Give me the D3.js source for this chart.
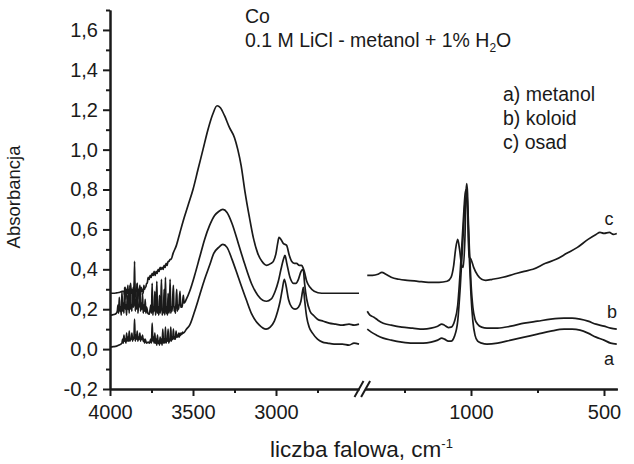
<!DOCTYPE html>
<html lang="pl">

<head>
    <title>Absorbancja</title>
    <meta charset="utf-8">
    <script src="https://d3js.org/d3.v7.min.js"></script>
    <style>
        body { margin: 0; background: #fff; }
        svg { display: block; font-family: "Liberation Sans", Arial, sans-serif; }
        .axis path, .axis line { stroke: #1a1a1a; stroke-width: 2; }
        .axis text { fill: #1a1a1a; font-size: 20px; font-family: "Liberation Sans", Arial, sans-serif; }
        .spectrum { fill: none; stroke: #1a1a1a; stroke-width: 1.7; stroke-linejoin: round; }
    </style>
</head>

<body>
    <div id="container"></div>
    <script>
        // Data: [wavenumber, absorbance]
        const aLeft = [[4000,0.01],[3980,0.012],[3960,0.015],[3945,0.02],[3935,0.025],
            [3928,0.03],[3924,0.05],[3920,0.03],[3916,0.07],[3912,0.04],[3908,0.05],[3904,0.03],[3900,0.08],
            [3896,0.04],[3892,0.06],[3888,0.04],[3884,0.09],[3880,0.04],[3876,0.05],[3872,0.05],[3868,0.08],
            [3864,0.04],[3860,0.06],[3856,0.05],[3852,0.15],[3848,0.04],[3844,0.07],[3840,0.05],[3836,0.09],
            [3832,0.04],[3828,0.06],[3824,0.05],[3820,0.08],[3816,0.04],[3812,0.06],[3808,0.05],[3804,0.07],
            [3800,0.04],[3796,0.05],[3792,0.03],[3788,0.05],[3780,0.03],[3770,0.035],[3762,0.03],
            [3758,0.04],[3754,0.05],[3750,0.03],[3746,0.13],[3742,0.04],[3738,0.06],[3734,0.03],[3730,0.08],
            [3726,0.03],[3722,0.05],[3718,0.02],[3714,0.07],[3710,0.03],[3706,0.04],[3702,0.02],[3698,0.06],
            [3694,0.03],[3690,0.05],[3686,0.02],[3682,0.10],[3678,0.03],[3674,0.05],[3670,0.03],[3666,0.11],
            [3662,0.03],[3658,0.05],[3654,0.04],[3650,0.10],[3646,0.03],[3642,0.05],[3638,0.04],[3634,0.11],
            [3630,0.04],[3626,0.06],[3622,0.05],[3618,0.10],[3614,0.05],[3610,0.06],[3606,0.05],[3602,0.09],
            [3598,0.06],[3594,0.07],[3590,0.06],[3586,0.08],[3582,0.06],[3578,0.08],[3574,0.07],[3570,0.08],
            [3566,0.075],[3562,0.085],[3558,0.08],
            [3540,0.10],[3520,0.12],[3490,0.19],[3460,0.27],[3430,0.35],[3400,0.42],[3375,0.48],[3345,0.51],
            [3320,0.525],[3295,0.51],[3265,0.45],[3227,0.36],[3180,0.25],[3146,0.175],[3100,0.12],[3060,0.10],
            [3035,0.11],[3010,0.14],[2990,0.19],[2975,0.24],[2962,0.30],[2950,0.35],[2940,0.32],[2925,0.25],
            [2905,0.21],[2885,0.20],[2865,0.21],[2850,0.24],[2840,0.29],[2835,0.31],[2828,0.25],[2815,0.16],
            [2800,0.11],[2780,0.08],[2750,0.05],[2720,0.035],[2690,0.03],[2650,0.025],[2600,0.025],
            [2560,0.02],[2530,0.03],[2500,0.025]];

        const bLeft = [[4000,0.17],[3985,0.172],[3970,0.175],[3962,0.18],
            [3956,0.19],[3952,0.22],[3948,0.18],[3944,0.26],[3940,0.19],[3936,0.21],[3932,0.17],[3928,0.29],
            [3924,0.19],[3920,0.23],[3916,0.18],[3912,0.31],[3908,0.20],[3904,0.22],[3900,0.17],[3896,0.27],
            [3892,0.20],[3888,0.24],[3884,0.18],[3880,0.32],[3876,0.20],[3872,0.22],[3868,0.19],[3864,0.30],
            [3860,0.21],[3856,0.23],[3852,0.44],[3848,0.19],[3844,0.25],[3840,0.20],[3836,0.33],[3832,0.18],
            [3828,0.22],[3824,0.21],[3820,0.31],[3816,0.19],[3812,0.23],[3808,0.20],[3804,0.28],[3800,0.18],
            [3796,0.22],[3792,0.19],[3788,0.25],[3784,0.18],[3780,0.21],[3772,0.18],[3764,0.175],
            [3758,0.20],[3754,0.22],[3750,0.18],[3746,0.33],[3742,0.17],[3738,0.21],[3734,0.19],[3730,0.29],
            [3726,0.17],[3722,0.20],[3718,0.34],[3714,0.18],[3710,0.21],[3706,0.17],[3702,0.27],[3698,0.18],
            [3694,0.22],[3690,0.35],[3686,0.17],[3682,0.20],[3678,0.18],[3674,0.30],[3670,0.17],[3666,0.36],
            [3662,0.18],[3658,0.21],[3654,0.17],[3650,0.28],[3646,0.18],[3642,0.20],[3638,0.35],[3634,0.18],
            [3630,0.21],[3626,0.19],[3622,0.26],[3618,0.32],[3614,0.19],[3610,0.21],[3606,0.18],[3602,0.24],
            [3598,0.30],[3594,0.19],[3590,0.22],[3586,0.20],[3582,0.25],[3578,0.29],[3574,0.21],[3570,0.22],
            [3566,0.21],[3562,0.24],[3558,0.27],[3554,0.23],
            [3540,0.25],[3520,0.29],[3490,0.37],[3460,0.46],[3430,0.55],[3400,0.62],[3370,0.67],[3345,0.69],
            [3320,0.70],[3295,0.685],[3265,0.63],[3227,0.53],[3190,0.43],[3146,0.325],[3110,0.27],[3080,0.245],
            [3056,0.24],[3030,0.25],[3005,0.29],[2986,0.34],[2970,0.40],[2955,0.45],[2946,0.47],[2935,0.43],
            [2916,0.36],[2895,0.33],[2880,0.33],[2865,0.35],[2849,0.39],[2836,0.40],[2828,0.33],[2815,0.25],
            [2795,0.19],[2775,0.17],[2750,0.15],[2715,0.14],[2680,0.13],[2640,0.125],[2600,0.12],[2560,0.125],
            [2530,0.12],[2500,0.125]];

        const cLeft = [[4000,0.28],[3980,0.28],[3960,0.282],[3940,0.285],[3925,0.29],
            [3916,0.29],[3912,0.27],[3908,0.31],[3904,0.25],[3900,0.30],[3896,0.28],[3892,0.32],[3888,0.23],
            [3884,0.30],[3880,0.27],[3876,0.33],[3872,0.28],[3868,0.30],[3864,0.24],[3860,0.31],[3856,0.28],
            [3852,0.34],[3848,0.26],[3844,0.30],[3840,0.29],[3836,0.33],[3832,0.25],[3828,0.30],[3824,0.28],
            [3820,0.32],[3816,0.27],[3812,0.31],[3808,0.29],[3804,0.30],[3800,0.28],[3796,0.32],[3792,0.30],
            [3788,0.31],[3784,0.31],[3780,0.33],[3776,0.33],
            [3770,0.36],[3764,0.35],[3758,0.37],[3752,0.36],[3746,0.38],[3740,0.37],[3734,0.39],[3728,0.37],
            [3722,0.39],[3716,0.38],[3710,0.40],[3704,0.39],[3698,0.41],[3692,0.40],[3686,0.41],[3680,0.40],
            [3674,0.42],[3668,0.41],[3662,0.43],[3656,0.42],[3650,0.44],[3644,0.44],[3638,0.45],[3632,0.45],
            [3620,0.48],[3600,0.52],
            [3580,0.58],[3560,0.64],[3530,0.72],[3500,0.80],[3470,0.90],[3440,1.00],[3410,1.10],[3380,1.18],
            [3355,1.22],[3335,1.21],[3310,1.17],[3280,1.11],[3250,1.06],[3230,1.00],[3210,0.92],[3187,0.79],
            [3160,0.66],[3137,0.56],[3110,0.48],[3085,0.44],[3056,0.42],[3030,0.43],[3016,0.44],[3000,0.48],
            [2990,0.53],[2982,0.56],[2970,0.55],[2956,0.53],[2936,0.52],[2920,0.47],[2906,0.44],[2890,0.43],
            [2876,0.43],[2860,0.42],[2846,0.42],[2838,0.41],[2830,0.39],[2815,0.34],[2795,0.31],[2770,0.29],
            [2725,0.28],[2680,0.28],[2620,0.28],[2560,0.28],[2500,0.28]];

        const aRight = [[1390,0.10],[1375,0.085],[1355,0.07],[1330,0.055],[1300,0.045],[1260,0.035],
            [1220,0.03],[1180,0.03],[1150,0.035],[1125,0.045],[1110,0.055],[1100,0.05],[1085,0.04],[1075,0.04],
            [1062,0.065],[1050,0.14],[1040,0.32],[1030,0.56],[1022,0.74],[1018,0.76],[1013,0.70],[1006,0.45],
            [1000,0.27],[993,0.14],[985,0.07],[975,0.04],[960,0.03],[940,0.025],[900,0.03],[850,0.045],
            [800,0.06],[750,0.075],[700,0.09],[650,0.10],[620,0.10],[590,0.095],[560,0.08],[530,0.06],
            [500,0.045],[475,0.03],[452,0.025]];

        const bRight = [[1390,0.19],[1380,0.17],[1365,0.16],[1350,0.145],[1330,0.13],[1300,0.12],[1260,0.11],
            [1220,0.105],[1180,0.10],[1150,0.105],[1125,0.115],[1110,0.125],[1100,0.12],[1085,0.108],[1075,0.11],
            [1062,0.14],[1050,0.22],[1040,0.40],[1030,0.62],[1022,0.78],[1018,0.80],[1013,0.74],[1006,0.50],
            [1000,0.33],[993,0.21],[985,0.15],[975,0.125],[960,0.11],[940,0.105],[900,0.105],[850,0.115],
            [800,0.13],[750,0.14],[700,0.15],[650,0.155],[620,0.155],[590,0.15],[560,0.14],[530,0.125],
            [500,0.115],[475,0.105],[452,0.10]];

        const cRight = [[1390,0.37],[1370,0.37],[1350,0.375],[1335,0.385],[1320,0.375],[1300,0.36],[1270,0.35],
            [1240,0.345],[1200,0.34],[1160,0.335],[1120,0.335],[1090,0.34],[1075,0.36],[1065,0.42],[1058,0.50],
            [1050,0.55],[1043,0.50],[1035,0.42],[1029,0.41],[1023,0.55],[1018,0.80],[1016,0.83],[1013,0.78],
            [1010,0.55],[1006,0.46],[1000,0.45],[990,0.41],[975,0.37],[960,0.35],[945,0.345],[920,0.35],
            [880,0.36],[840,0.375],[800,0.39],[767,0.40],[720,0.43],[680,0.45],[640,0.48],[600,0.51],
            [560,0.55],[530,0.575],[515,0.585],[500,0.58],[480,0.585],[465,0.575],[452,0.58]];

        const yMajor = [-0.2, 0, 0.2, 0.4, 0.6, 0.8, 1.0, 1.2, 1.4, 1.6];
        const yMinor = [-0.1, 0.1, 0.3, 0.5, 0.7, 0.9, 1.1, 1.3, 1.5, 1.7];
        const xLeftMajor = [4000, 3500, 3000];
        const xLeftMinor = [3750, 3250, 2750];
        const xRightMajor = [1000, 500];
        const xRightMinor = [1250, 750];
        const legendLines = ["a) metanol", "b) koloid", "c) osad"];
        const curveNames = ["a", "b", "c"];

        // Chart dimensions
        const width = 634;
        const height = 464;
        const plotLeft = 110;
        const plotBottom = 389;
        const plotTop = 10;
        const breakLeft = 359;
        const breakRight = 364.6;
        const plotRight = 617.3;

        const svg = d3.select("#container")
            .append("svg")
            .attr("width", width)
            .attr("height", height);

        // Scales
        const yScale = d3.scaleLinear().domain([-0.2, 1.7]).range([plotBottom, plotTop]);
        const xLeft = d3.scaleLinear().domain([4000, 2500]).range([plotLeft, breakLeft]);
        const xRight = d3.scaleLinear().domain([1400, 450]).range([breakRight, plotRight]);

        const fmt = d => d3.format(".1f")(d).replace("−", "-").replace(".", ",");

        // Axes
        svg.append("g")
            .attr("class", "axis")
            .attr("transform", `translate(${plotLeft},0)`)
            .call(d3.axisLeft(yScale).tickValues(yMajor).tickSize(7).tickSizeOuter(0).tickPadding(5).tickFormat(fmt));

        svg.append("g")
            .attr("class", "axis")
            .attr("transform", `translate(${plotLeft},0)`)
            .call(d3.axisLeft(yScale).tickValues(yMinor).tickSize(4).tickSizeOuter(0).tickFormat(""));

        [[xLeft, xLeftMajor, xLeftMinor], [xRight, xRightMajor, xRightMinor]].forEach(([sc, major, minor]) => {
            svg.append("g")
                .attr("class", "axis")
                .attr("transform", `translate(0,${plotBottom})`)
                .call(d3.axisBottom(sc).tickValues(major).tickSize(7).tickSizeOuter(0).tickPadding(9).tickFormat(d3.format("d")));
            svg.append("g")
                .attr("class", "axis")
                .attr("transform", `translate(0,${plotBottom})`)
                .call(d3.axisBottom(sc).tickValues(minor).tickSize(4).tickSizeOuter(0).tickFormat(""));
        });

        // Axis break marks
        [breakLeft, breakRight + 1].forEach(bx => {
            svg.append("line")
                .attr("x1", bx - 4.5).attr("y1", plotBottom + 8)
                .attr("x2", bx + 4.5).attr("y2", plotBottom - 8)
                .attr("stroke", "#1a1a1a")
                .attr("stroke-width", 2);
        });

        // Spectra
        const lineLeft = d3.line().x(d => xLeft(d[0])).y(d => yScale(d[1])).curve(d3.curveMonotoneX);
        const lineRight = d3.line().x(d => xRight(d[0])).y(d => yScale(d[1])).curve(d3.curveMonotoneX);

        [aLeft, bLeft, cLeft].forEach(s => {
            svg.append("path").attr("class", "spectrum").attr("d", lineLeft(s));
        });
        [aRight, bRight, cRight].forEach(s => {
            svg.append("path").attr("class", "spectrum").attr("d", lineRight(s));
        });

        // Curve labels
        const curveLabelPos = { a: [609, 365], b: [612, 318], c: [609, 225] };
        curveNames.forEach(n => {
            svg.append("text")
                .attr("x", curveLabelPos[n][0])
                .attr("y", curveLabelPos[n][1])
                .attr("text-anchor", "middle")
                .style("font-size", "18px")
                .attr("fill", "#1a1a1a")
                .text(n);
        });

        // Title
        svg.append("text")
            .attr("x", 245).attr("y", 23)
            .style("font-size", "19.5px")
            .attr("fill", "#1a1a1a")
            .text("Co");

        const sub = svg.append("text")
            .attr("x", 245).attr("y", 47)
            .style("font-size", "19.5px")
            .attr("fill", "#1a1a1a");
        sub.append("tspan").text("0.1 M LiCl - metanol + 1% H");
        sub.append("tspan").attr("dy", 5).style("font-size", "12px").text("2");
        sub.append("tspan").attr("dy", -5).text("O");

        // Legend
        svg.selectAll(".legend")
            .data(legendLines)
            .enter().append("text")
            .attr("class", "legend")
            .attr("x", 503)
            .attr("y", (d, i) => 101 + i * 24)
            .style("font-size", "19.5px")
            .attr("fill", "#1a1a1a")
            .text(d => d);

        // Axis titles
        const xTitle = svg.append("text")
            .attr("x", 270).attr("y", 457)
            .style("font-size", "22.5px")
            .attr("fill", "#1a1a1a");
        xTitle.append("tspan").text("liczba falowa, cm");
        xTitle.append("tspan").attr("dy", -9).style("font-size", "13px").text("-1");

        svg.append("text")
            .attr("transform", "translate(20,197) rotate(-90)")
            .attr("text-anchor", "middle")
            .style("font-size", "18.5px")
            .attr("fill", "#1a1a1a")
            .text("Absorbancja");
    </script>
</body>

</html>
